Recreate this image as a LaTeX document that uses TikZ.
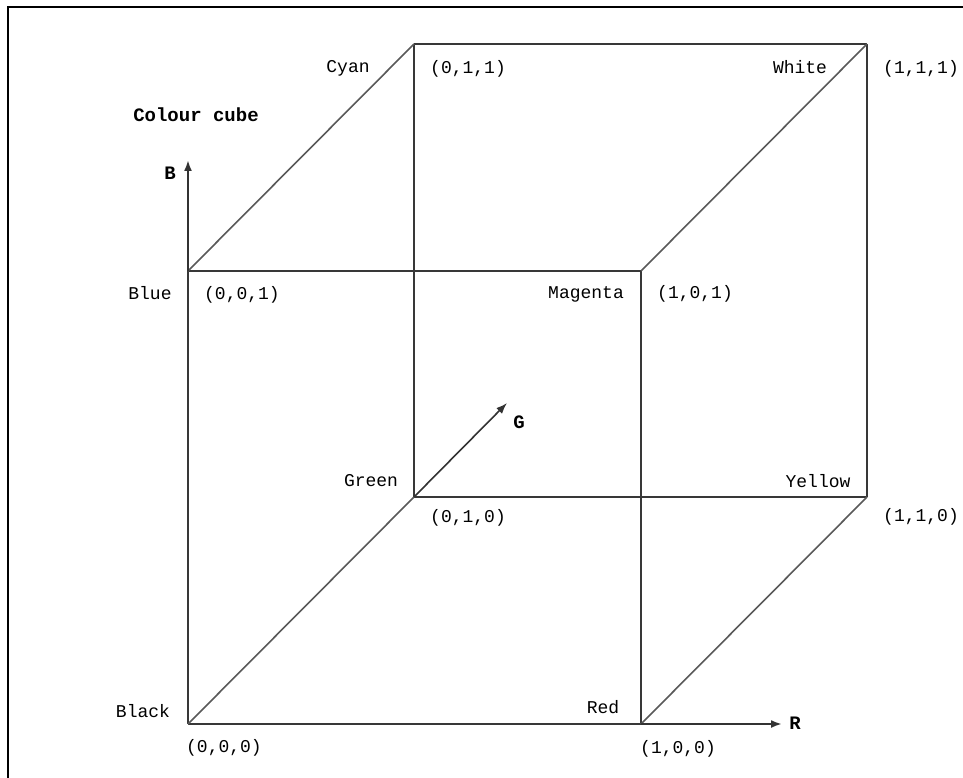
\documentclass[tikz,border=0pt]{standalone}
\usepackage{fontspec}
\setmonofont{Liberation Mono}
\usetikzlibrary{arrows.meta}
\begin{document}
\begin{tikzpicture}[x=1pt,y=-1pt,
  edge/.style={draw=black!78,line width=2.4pt},
  diag/.style={draw=black!65,line width=1.6pt},
  axis/.style={draw=black!80,line width=2pt,-{Latex[length=11pt,width=8pt]}},
  lbl/.style={inner sep=0pt,anchor=center,font=\ttfamily\fontsize{18}{18}\selectfont},
  blbl/.style={inner sep=0pt,anchor=center,font=\ttfamily\bfseries\fontsize{19}{19}\selectfont}]
\useasboundingbox (0,0) rectangle (963,778);
% frame
\draw[line width=2.4pt] (8,778) -- (8,7) -- (963,7);
% vertices
\coordinate (K) at (188,724);
\coordinate (R) at (641,724);
\coordinate (Bl) at (188,271);
\coordinate (M) at (641,271);
\coordinate (Gr) at (414,497);
\coordinate (Y) at (867,497);
\coordinate (C) at (414,44);
\coordinate (W) at (867,44);
% axis tips
\coordinate (Btip) at (188,160);
\coordinate (Gtip) at (507,403);
\coordinate (Rtip) at (782,724);
% back edges
\draw[edge] (Gr) -- (Y);
\draw[edge] (Gr) -- (C);
\draw[edge] (C) -- (W);
\draw[edge] (W) -- (Y);
% front edges
\draw[edge] (K) -- (R);
\draw[edge] (R) -- (M);
\draw[edge] (M) -- (Bl);
\draw[edge] (Bl) -- (K);
% diagonals
\draw[diag] (K) -- (Gr);
\draw[diag] (R) -- (Y);
\draw[diag] (M) -- (W);
\draw[diag] (Bl) -- (C);
% axes
\draw[axis] (Bl) -- (Btip);
\draw[axis,line width=1.6pt] (Gr) -- (Gtip);
\draw[axis] (R) -- (Rtip);
% labels
\node[blbl] (title) at (196,115) {Colour cube};
\node[blbl] (labB) at (170,173) {B};
\node[blbl] (labG) at (519,422) {G};
\node[blbl] (labR) at (795,723) {R};
\node[lbl] (cyan) at (348,68) {Cyan};
\node[lbl] (c011) at (468,69) {(0,1,1)};
\node[lbl] (white) at (800,67) {White};
\node[lbl] (c111) at (921,69) {(1,1,1)};
\node[lbl] (blue) at (150,293) {Blue};
\node[lbl] (c001) at (242,295) {(0,0,1)};
\node[lbl] (magenta) at (586,294) {Magenta};
\node[lbl] (c101) at (695,294) {(1,0,1)};
\node[lbl] (green) at (371,481) {Green};
\node[lbl] (yellow) at (818,481) {Yellow};
\node[lbl] (c010) at (468,518) {(0,1,0)};
\node[lbl] (c110) at (921,517) {(1,1,0)};
\node[lbl] (black) at (143,711) {Black};
\node[lbl] (red) at (603,707) {Red};
\node[lbl] (c000) at (224,748) {(0,0,0)};
\node[lbl] (c100) at (678,749) {(1,0,0)};
\end{tikzpicture}
\end{document}
